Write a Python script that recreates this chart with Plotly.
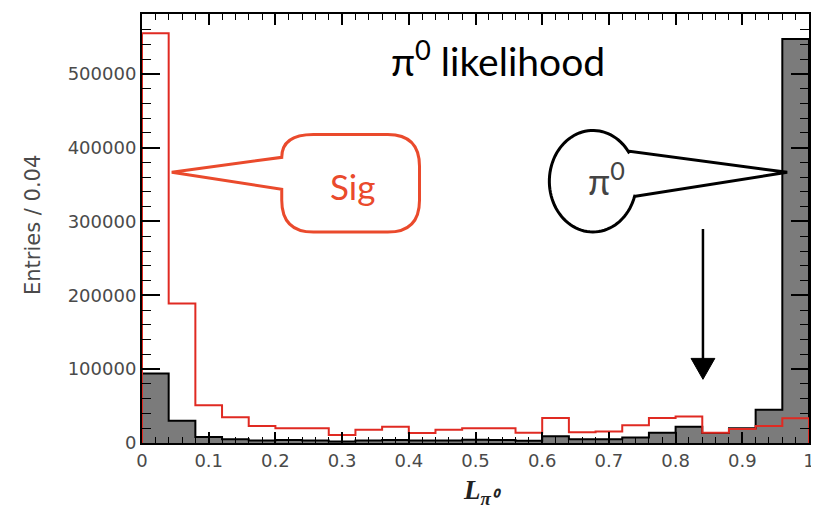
import math
import plotly.graph_objects as go

# ---------------- data ----------------
bin_edges = [0.00, 0.04, 0.08, 0.12, 0.16, 0.20, 0.24, 0.28, 0.32, 0.36, 0.40,
             0.44, 0.48, 0.52, 0.56, 0.60, 0.64, 0.68, 0.72, 0.76, 0.80,
             0.84, 0.88, 0.92, 0.96, 1.00]
sig_counts = [555000, 189000, 51000, 35000, 23000, 20000, 20000, 11000, 18000, 22000,
              13500, 18000, 20000, 20000, 14000, 34000, 14500, 15500, 24000, 34000,
              36000, 14000, 19000, 23000, 33500]
pi0_counts = [94000, 30000, 8000, 5000, 3500, 4000, 3500, 2000, 3500, 4000,
              3500, 3500, 4500, 4000, 3000, 9000, 5000, 5000, 7500, 14000,
              22000, 13500, 20000, 45000, 547000]
x_tick_vals = [0, 0.1, 0.2, 0.3, 0.4, 0.5, 0.6, 0.7, 0.8, 0.9, 1.0]
x_tick_text = ["0", "0.1", "0.2", "0.3", "0.4", "0.5", "0.6", "0.7", "0.8", "0.9", "1"]
y_tick_vals = [0, 100000, 200000, 300000, 400000, 500000]
y_tick_text = ["0", "100000", "200000", "300000", "400000", "500000"]


def step(edges, counts):
    xs = [edges[0]] + list(edges) + [edges[-1]]
    ys = [0] + list(counts) + [counts[-1], 0]
    return xs, ys


# page body has an 8px margin: figure drawn at (8, 8)
OFF = 8
W, H = 819 - OFF, 515 - OFF
SL, SR, ST, SB = 142, 815, 12, 443          # plot area in screen pixels
L, T = SL - OFF, ST - OFF
R = W - (SR - OFF)
B = H - (SB - OFF)
PW, PH = SR - SL, SB - ST


def P(px, py):
    return (px - SL) / PW, (SB - py) / PH


def fmt(pt):
    x, y = P(*pt)
    return f"{x:.5f},{y:.5f}"


def path(points, close=True):
    s = ""
    for i, pt in enumerate(points):
        s += ("M" if i == 0 else "L") + fmt(pt) + " "
    return s + ("Z" if close else "")


fig = go.Figure()

gx, gy = step(bin_edges, pi0_counts)
fig.add_trace(go.Scatter(x=gx, y=gy, mode="lines", line=dict(color="black", width=2, shape="hv"),
                         fill="tozeroy", fillcolor="#7b7b7b", showlegend=False, hoverinfo="skip"))
sx, sy = step(bin_edges, sig_counts)
fig.add_trace(go.Scatter(x=sx, y=sy, mode="lines", line=dict(color="#e02a22", width=2, shape="hv"),
                         showlegend=False, hoverinfo="skip"))

tickfont = dict(family="DejaVu Sans", size=18, color="#4a4a4a")
fig.update_xaxes(range=[0, 1], tickvals=x_tick_vals, ticktext=x_tick_text,
                 ticks="inside", ticklen=11, tickwidth=1.5, tickcolor="black",
                 minor=dict(ticks="inside", ticklen=6, dtick=0.02, tickwidth=1.2, tickcolor="black"),
                 showline=True, linecolor="black", linewidth=2, mirror="allticks",
                 showgrid=False, zeroline=False, tickfont=tickfont)
fig.update_yaxes(range=[0, 581000], tickvals=y_tick_vals, ticktext=y_tick_text,
                 ticks="inside", ticklen=18, tickwidth=1.5, tickcolor="black",
                 minor=dict(ticks="inside", ticklen=9, dtick=20000, tickwidth=1.2, tickcolor="black"),
                 showline=True, linecolor="black", linewidth=2, mirror="allticks",
                 showgrid=False, zeroline=False, tickfont=tickfont)

# red "Sig" bubble
r = 32
x0, x1, y0, y1 = 283, 422, 133, 231
red_path = (f"M{fmt((x0 + r, y0))} L{fmt((x1 - r, y0))} "
            f"Q{fmt((x1, y0))} {fmt((x1, y0 + r))} L{fmt((x1, y1 - r))} "
            f"Q{fmt((x1, y1))} {fmt((x1 - r, y1))} L{fmt((x0 + r, y1))} "
            f"Q{fmt((x0, y1))} {fmt((x0, y1 - r))} L{fmt((x0, 188))} "
            f"L{fmt((172, 171))} L{fmt((x0, 156))} "
            f"Q{fmt((x0, y0))} {fmt((x0 + r, y0))} Z")
fig.add_shape(type="path", xref="paper", yref="paper", path=red_path,
              line=dict(color="#ea4a2c", width=3), fillcolor="white", layer="above")

# black pi0 bubble
cx, cy, rx, ry = 597, 180, 44, 51
pts = []
a_start, a_end = 17, 325
n = 80
for i in range(n + 1):
    a = math.radians(a_start + (a_end - a_start) * i / n)
    pts.append((cx + rx * math.cos(a), cy + ry * math.sin(a)))
pts.append((634, 150))
pts.append((793, 171))
pts.append((640, 195))
fig.add_shape(type="path", xref="paper", yref="paper", path=path(pts),
              line=dict(color="black", width=3), fillcolor="white", layer="above")

# arrow
fig.add_shape(type="path", xref="paper", yref="paper", path=path([(708, 228), (708, 362)], close=False),
              line=dict(color="black", width=2.5))
fig.add_shape(type="path", xref="paper", yref="paper",
              path=path([(696, 358), (720, 358), (708, 379)]),
              line=dict(color="black", width=1), fillcolor="black")

ann = [
    dict(text="π<sup>0</sup> likelihood", px=501, py=57, size=39, color="black"),
    dict(text="Sig", px=354, py=185, size=35, color="#ea4a2c"),
    dict(text="π<sup>0</sup>", px=611, py=178, size=36, color="#444444"),
]
for a in ann:
    x, y = P(a["px"], a["py"])
    fig.add_annotation(text=a["text"], x=x, y=y, xref="paper", yref="paper", showarrow=False,
                       font=dict(family="Lato", size=a["size"], color=a["color"]),
                       xanchor="center", yanchor="middle")

# axis titles
x, y = P(32, 224)
fig.add_annotation(text="Entries / 0.04", x=x, y=y, xref="paper", yref="paper", showarrow=False,
                   textangle=-90, font=dict(family="DejaVu Sans", size=21, color="#4a4a4a"),
                   xanchor="center", yanchor="middle")
x, y = P(486, 492)
fig.add_annotation(text="<b><i>L</i></b><sub><b><i>π⁰</i></b></sub>", x=x, y=y, xref="paper", yref="paper",
                   showarrow=False, font=dict(family="Liberation Serif", size=27, color="#222222"),
                   xanchor="center", yanchor="middle")

fig.update_layout(width=W, height=H, margin=dict(l=L, r=R, t=T, b=B),
                  paper_bgcolor="white", plot_bgcolor="white", showlegend=False)

fig.write_html("out.html")
